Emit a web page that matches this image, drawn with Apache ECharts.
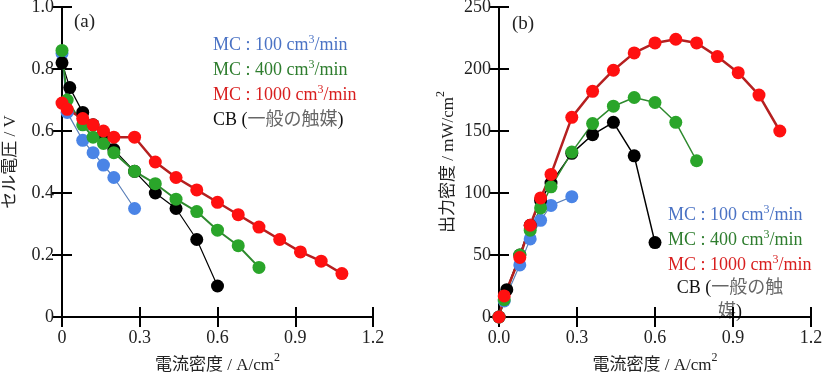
<!DOCTYPE html>
<html>
<head>
<meta charset="utf-8">
<script src="https://cdn.jsdelivr.net/npm/echarts@6/dist/echarts.min.js"></script>
<style>
  html, body { margin: 0; padding: 0; background: #fff; }
  #chart { width: 839px; height: 375px; }
</style>
</head>
<body>
<div id="chart"></div>
<script>
// 電流密度 (A/cm2)
var blueX  = [0, 0.02, 0.08, 0.12, 0.16, 0.2, 0.28];
var greenX = [0, 0.02, 0.08, 0.12, 0.16, 0.2, 0.28, 0.36, 0.44, 0.52, 0.6, 0.68, 0.76];
var redX   = [0, 0.02, 0.08, 0.12, 0.16, 0.2, 0.28, 0.36, 0.44, 0.52, 0.6, 0.68, 0.76, 0.84, 0.92, 1.0, 1.08];
var blackX = [0, 0.03, 0.08, 0.12, 0.16, 0.2, 0.28, 0.36, 0.44, 0.52, 0.6];

// (a) セル電圧 (V)
var blueV  = [0.85, 0.66, 0.57, 0.53, 0.49, 0.45, 0.35];
var greenV = [0.86, 0.70, 0.62, 0.58, 0.56, 0.53, 0.47, 0.43, 0.38, 0.34, 0.28, 0.23, 0.16];
var redV   = [0.69, 0.67, 0.64, 0.62, 0.60, 0.58, 0.58, 0.50, 0.45, 0.41, 0.37, 0.33, 0.29, 0.25, 0.21, 0.18, 0.14];
var blackV = [0.82, 0.74, 0.66, 0.62, 0.59, 0.54, 0.47, 0.40, 0.35, 0.25, 0.10];

// (b) 出力密度 (mW/cm2)
var blueP  = [0, 13, 42, 63, 78, 90, 97];
var greenP = [0, 14, 50, 70, 88, 105, 133, 156, 170, 177, 173, 157, 126];
var redP   = [0, 17, 48, 74, 96, 115, 161, 182, 199, 213, 221, 224, 221, 210, 197, 179, 150];
var blackP = [0, 22, 50, 74, 94, 108, 132, 147, 157, 130, 60];

var legendNames = ['100', '400', '1000'];

var FONT = "'Liberation Serif', 'Noto Sans CJK JP', serif";
var myChart = echarts.init(document.getElementById('chart'));

function pairs(xs, ys) {
  return xs.map(function (x, i) { return [x, ys[i]]; });
}

var nameRich = {
  a: { fontFamily: FONT, fontSize: 17, color: '#222' },
  s: { fontFamily: FONT, fontSize: 12, color: '#222', padding: [0, 0, 16, 0] }
};

function mainX(gi, fmt) {
  return {
    type: 'value', gridIndex: gi, min: 0, max: 1.2, interval: 0.3,
    name: '{a|電流密度 / A/cm}{s|2}', nameLocation: 'middle', nameGap: 30,
    nameTextStyle: { rich: nameRich },
    axisLine: { lineStyle: { color: '#000', width: 2 } },
    axisTick: { inside: true, length: 10, lineStyle: { color: '#000', width: 2 } },
    axisLabel: { fontFamily: FONT, fontSize: 18, color: '#222', margin: 12, formatter: fmt },
    splitLine: { show: false }
  };
}
function mirrorX(gi) {
  return {
    type: 'value', gridIndex: gi, position: 'top', min: 0, max: 1.2, interval: 0.3,
    axisLine: { lineStyle: { color: '#000', width: 2 } },
    axisTick: { inside: true, length: 10, lineStyle: { color: '#000', width: 2 } },
    axisLabel: { show: false }, splitLine: { show: false }
  };
}
function mainY(gi, max, interval, name, gap, fmt) {
  return {
    type: 'value', gridIndex: gi, min: 0, max: max, interval: interval,
    name: name, nameLocation: 'middle', nameGap: gap,
    nameTextStyle: { rich: nameRich },
    axisLine: { lineStyle: { color: '#000', width: 2 } },
    axisTick: { inside: true, length: 10, lineStyle: { color: '#000', width: 2 } },
    axisLabel: { fontFamily: FONT, fontSize: 18, color: '#222', margin: 8, formatter: fmt },
    splitLine: { show: false }
  };
}
function mirrorY(gi, max, interval) {
  return {
    type: 'value', gridIndex: gi, position: 'right', min: 0, max: max, interval: interval,
    axisLine: { lineStyle: { color: '#000', width: 2 } },
    axisTick: { inside: true, length: 10, lineStyle: { color: '#000', width: 2 } },
    axisLabel: { show: false }, splitLine: { show: false }
  };
}

function line(xi, yi, data, color, lineColor, lw) {
  return {
    type: 'line', xAxisIndex: xi, yAxisIndex: yi, data: data,
    symbol: 'circle', symbolSize: 13, silent: true,
    itemStyle: { color: color },
    lineStyle: { color: lineColor, width: lw }
  };
}

function legendText(x, y, color, label) {
  return {
    type: 'text', x: x, y: y,
    style: {
      text: '{t|MC : ' + label + ' cm}{s|3}{t|/min}',
      fill: color, verticalAlign: 'middle',
      rich: {
        t: { fontFamily: FONT, fontSize: 18, fill: color },
        s: { fontFamily: FONT, fontSize: 12, fill: color, padding: [0, 0, 10, 0] }
      }
    }
  };
}

var jRich = {
  k: { fontFamily: FONT, fontSize: 18, fill: '#111', lineHeight: 24 },
  j: { fontFamily: FONT, fontSize: 18, fill: '#666', lineHeight: 24 }
};

var options = {
  animation: false,
  backgroundColor: '#fff',
  grid: [
    { left: 62, top: 7, width: 311, height: 310, outerBoundsMode: 'none' },
    { left: 499, top: 7, width: 312, height: 310, outerBoundsMode: 'none' }
  ],
  xAxis: [
    mainX(0, function (v) { return v === 0 ? '0' : v.toFixed(1); }),
    mirrorX(0),
    mainX(1, function (v) { return v.toFixed(1); }),
    mirrorX(1)
  ],
  yAxis: [
    mainY(0, 1.0, 0.2, '{a|セル電圧 / V}', 43, function (v) { return v === 0 ? '0' : v.toFixed(1); }),
    mirrorY(0, 1.0, 0.2),
    mainY(1, 250, 50, '{a|出力密度 / mW/cm}{s|2}', 36, function (v) { return String(v); }),
    mirrorY(1, 250, 50)
  ],
  series: [
    line(0, 0, pairs(blueX, blueV), '#4a84e6', '#5a7fb8', 1.2),
    line(0, 0, pairs(blackX, blackV), '#000', '#000', 1.2),
    line(0, 0, pairs(greenX, greenV), '#2aa52a', '#2e8a2e', 2),
    line(0, 0, pairs(redX, redV), '#ff1010', '#b52020', 2.5),
    line(2, 2, pairs(blueX, blueP), '#4a84e6', '#5a7fb8', 1.2),
    line(2, 2, pairs(blackX, blackP), '#000', '#000', 1.5),
    line(2, 2, pairs(greenX, greenP), '#2aa52a', '#2e8a2e', 1.5),
    line(2, 2, pairs(redX, redP), '#ff1010', '#b52020', 2.5)
  ],
  graphic: [
    { type: 'text', x: 74, y: 22, style: { text: '(a)', font: '19px ' + FONT, fill: '#222', verticalAlign: 'middle' } },
    { type: 'text', x: 512, y: 24, style: { text: '(b)', font: '19px ' + FONT, fill: '#222', verticalAlign: 'middle' } },
    legendText(213, 45, '#4a72c4', legendNames[0]),
    legendText(213, 70, '#2e7d2e', legendNames[1]),
    legendText(213, 95, '#d81e1e', legendNames[2]),
    {
      type: 'text', x: 213, y: 120,
      style: { text: '{k|CB (}{j|一般の触媒}{k|)}', verticalAlign: 'middle', rich: jRich }
    },
    legendText(668, 215, '#4a72c4', legendNames[0]),
    legendText(668, 240, '#2e7d2e', legendNames[1]),
    legendText(668, 265, '#d81e1e', legendNames[2]),
    {
      type: 'text', x: 730, y: 300,
      style: {
        text: '{k|CB (}{j|一般の触}\n{j|媒}{k|)}', align: 'center', verticalAlign: 'middle',
        lineHeight: 24, rich: jRich
      }
    }
  ]
};

myChart.setOption(options);
</script>
</body>
</html>
